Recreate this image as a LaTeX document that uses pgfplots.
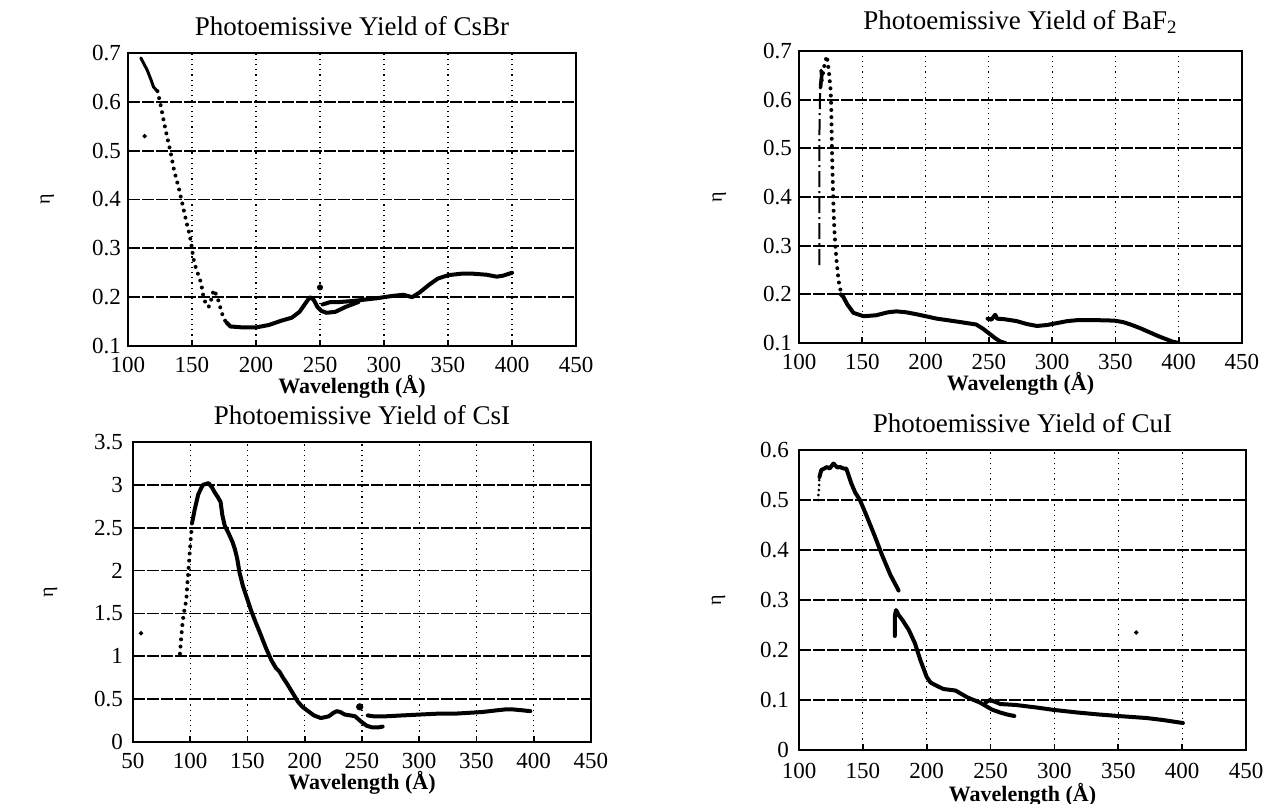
\documentclass[border=0pt]{standalone}
\usepackage{fontspec}
\setmainfont{Liberation Serif}
\usepackage{pgfplots}
\pgfplotsset{compat=1.18}
\pgfplotsset{
  panel/.style={
    scale only axis,
    axis line style={line width=1pt},
    xmajorgrids, ymajorgrids,
    x grid style={black, line width=0.6pt, dotted},
    y grid style={black, line width=0.9pt, dash pattern=on 6pt off 1pt},
    tick style={black, line width=0.8pt},
    major tick length=3pt,
    tick align=inside,
    xtick pos=left, ytick pos=left,
    xlabel={\textbf{Wavelength (Å)}},
    ylabel={η},
    ylabel style={font=\fontsize{12}{13}\selectfont},
    every axis y label/.style={at={(axis description cs:-0.18,0.5)}, rotate=90, anchor=center},
    title style={font=\fontsize{13.5}{14}\selectfont, yshift=-1pt},
    ticklabel style={font=\fontsize{11.5}{12}\selectfont},
    /pgf/number format/assume math mode=true,
  },
  curve/.style={black, line width=2pt, line join=round, line cap=round},
  dots/.style={black, line width=2pt, line cap=round, dash pattern=on 0pt off 3.6pt},
  stray/.style={black, only marks, mark=*, mark size=0.9pt},
}
\begin{document}
\begin{tikzpicture}
\useasboundingbox (0,0) rectangle (633pt,-402pt);
% ---------------- CsBr
\begin{axis}[panel, at={(64pt,-173pt)}, anchor=south west,
  width=224pt, height=146.5pt,
  xmin=100, xmax=450, ymin=0.1, ymax=0.7,
  xtick={100,150,...,450}, ytick={0.1,0.2,...,0.7},
  yticklabel style={/pgf/number format/fixed, /pgf/number format/precision=1},
  xticklabel style={yshift=-2pt},
  xlabel style={font=\fontsize{11}{12}\selectfont, yshift=5.5pt},
  title={Photoemissive Yield of CsBr}]
\addplot[curve, line width=1.5pt] coordinates {(110,0.69) (112,0.68) (115,0.665) (118,0.645) (120,0.63) (123,0.622)};
\addplot[dots] coordinates {(123,0.622) (125,0.6) (128,0.56) (130,0.535) (133,0.5) (136,0.46) (140,0.42) (143,0.385) (146,0.35) (148,0.33) (150,0.3) (151,0.28) (153,0.26) (155,0.245) (157,0.23) (159,0.2) (161,0.185) (163,0.18) (165,0.195) (167,0.215) (169,0.205) (171,0.19) (173,0.17) (175,0.155) (177,0.148)};
\addplot[curve] coordinates {(177,0.148) (180,0.14) (190,0.138) (200,0.138) (210,0.143) (220,0.152) (228,0.158) (234,0.17) (238,0.185) (242,0.2) (245,0.195) (248,0.18) (251,0.172) (255,0.168) (262,0.17) (270,0.18) (280,0.19)};
\addplot[curve] coordinates {(252,0.185) (258,0.19) (265,0.19) (275,0.192) (285,0.195) (295,0.198) (305,0.202) (315,0.205) (322,0.2) (328,0.21) (335,0.225) (342,0.238) (350,0.245) (360,0.248) (370,0.248) (380,0.246) (388,0.242) (393,0.244) (400,0.25)};
\addplot[stray, mark size=1.3pt] coordinates {(250,0.22)};
\addplot[stray] coordinates {(113,0.53)};
\end{axis}
% ---------------- BaF2
\begin{axis}[panel, at={(399.5pt,-171.5pt)}, anchor=south west,
  width=221.5pt, height=146pt,
  xmin=100, xmax=450, ymin=0.1, ymax=0.7,
  xtick={100,150,...,450}, ytick={0.1,0.2,...,0.7},
  yticklabel style={/pgf/number format/fixed, /pgf/number format/precision=1},
  xticklabel style={yshift=-2pt},
  xlabel style={font=\fontsize{11}{12}\selectfont, yshift=5.5pt},
  title={Photoemissive Yield of BaF$_{\mathrm{2}}$}]
\addplot[black, line width=1pt, dash pattern=on 8pt off 2pt on 1pt off 2pt] coordinates {(116,0.26) (116,0.4) (116,0.5) (116.5,0.6) (117,0.63)};
\addplot[curve, line width=1.8pt] coordinates {(117,0.625) (117.5,0.64) (118,0.65) (117.5,0.66)};
\addplot[dots] coordinates {(118,0.64) (120,0.67) (122,0.69) (123.5,0.66) (125,0.62) (125.5,0.58) (126,0.5) (126.5,0.45) (127,0.4) (127.5,0.36) (128,0.33) (129,0.29) (130,0.26) (131,0.235) (132,0.215) (134,0.2)};
\addplot[curve] coordinates {(133,0.2) (135,0.195) (138,0.18) (143,0.162) (151,0.155) (161,0.157) (170,0.163) (177,0.165) (185,0.163) (193,0.159) (209,0.15) (225,0.144) (240,0.138) (245,0.13) (250,0.12) (255,0.11) (259,0.103) (263,0.1)};
\addplot[curve] coordinates {(249,0.15) (252,0.148) (255,0.158) (256.5,0.15) (262,0.149) (272,0.145) (280,0.139) (288,0.135) (296,0.137) (304,0.141) (312,0.145) (320,0.147) (335,0.147) (349,0.146) (356,0.143) (362,0.138) (370,0.13) (377,0.122) (384,0.114) (390,0.108) (395,0.103) (400,0.1)};
\end{axis}
% ---------------- CsI
\begin{axis}[panel, at={(66.5pt,-371pt)}, anchor=south west,
  width=229pt, height=150pt,
  xmin=50, xmax=450, ymin=0, ymax=3.5,
  xtick={50,100,...,450}, ytick={0,0.5,...,3.5},
  yticklabel style={xshift=-1.5pt},
  xticklabel style={yshift=-2pt},
  xlabel style={font=\fontsize{11}{12}\selectfont, yshift=5.5pt},
  title={Photoemissive Yield of CsI}]
\addplot[dots] coordinates {(91,1.03) (92,1.2) (93.5,1.42) (95,1.55) (96.5,1.65) (97.5,1.85) (98.5,2.02) (99.5,2.2) (100.5,2.38) (101.5,2.52)};
\addplot[curve] coordinates {(101.5,2.55) (104,2.72) (107,2.89) (111,3.0) (116,3.02) (119,2.97) (121,2.92) (124,2.86) (126.5,2.8) (128,2.65) (130,2.53) (134,2.42) (137,2.33) (139,2.25) (141,2.14) (143,1.98) (146,1.82) (149,1.7) (153,1.54) (157,1.4) (161,1.27) (166,1.1) (171,0.95) (175,0.86) (178,0.82) (181,0.75) (185,0.67) (190,0.56) (194,0.47) (198,0.41) (203,0.36) (208,0.31) (214,0.28) (218,0.29) (221,0.3) (225,0.34) (228,0.36) (231,0.35) (235,0.32) (240,0.31) (244,0.3) (249,0.24) (254,0.19) (259,0.17) (264,0.17) (268,0.18)};
\addplot[curve] coordinates {(255,0.31) (260,0.3) (271,0.3) (285,0.31) (300,0.32) (315,0.33) (330,0.33) (343,0.34) (355,0.35) (368,0.37) (375,0.38) (382,0.38) (390,0.37) (397,0.36)};
\addplot[stray, mark size=1.6pt] coordinates {(248,0.41)};
\addplot[stray] coordinates {(57,1.27)};
\end{axis}
% ---------------- CuI
\begin{axis}[panel, at={(399.5pt,-375pt)}, anchor=south west,
  width=223.5pt, height=150pt,
  xmin=100, xmax=450, ymin=0, ymax=0.6,
  xtick={100,150,...,450}, ytick={0,0.1,...,0.6},
  yticklabel style={/pgf/number format/fixed, /pgf/number format/precision=1, xshift=-1.5pt},
  xticklabel style={yshift=-3pt},
  xlabel style={font=\fontsize{11}{12}\selectfont, yshift=4.5pt},
  title={Photoemissive Yield of CuI}]
\addplot[dots, line width=1.5pt, dash pattern=on 0pt off 2.5pt] coordinates {(115,0.5) (115.5,0.52) (116,0.546)};
\addplot[curve] coordinates {(116,0.546) (117.5,0.56) (122,0.566) (124,0.563) (127,0.573) (130,0.565) (132,0.566) (135,0.563) (137,0.563) (139,0.548) (141,0.533) (144,0.515) (147.7,0.5) (152.5,0.471) (159,0.43) (165,0.39) (171.6,0.35) (178,0.319)};
\addplot[curve] coordinates {(175,0.228) (175,0.268) (176,0.28) (178,0.27) (181,0.26) (186,0.24) (190.7,0.214) (195,0.18) (200,0.146) (203,0.135) (206.6,0.13) (213,0.122) (222.5,0.119) (232,0.105) (241.6,0.095) (251,0.081) (257.5,0.075) (263,0.071) (268.6,0.068)};
\addplot[curve] coordinates {(246,0.095) (249.5,0.1) (254,0.096) (257.5,0.092) (270,0.09) (286,0.085) (300,0.08) (318,0.075) (335,0.071) (350,0.068) (372,0.064) (385,0.06) (400.6,0.054)};
\addplot[stray] coordinates {(364,0.235)};
\end{axis}
\end{tikzpicture}
\end{document}
